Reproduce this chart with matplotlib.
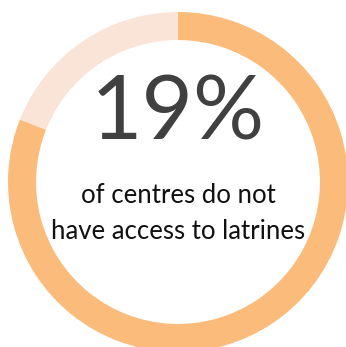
import matplotlib
matplotlib.use("Agg")
import matplotlib.pyplot as plt

# share of centres without latrines vs. with
shares = [81, 19]
colors = ["#FBBB7A", "#FAE4D8"]
caption = ["of centres do not", "have access to latrines"]
highlight = shares[1]

fig = plt.figure(figsize=(3.46, 3.47), dpi=100)
W, H = 346, 347
cx, cy, r = 178, 182, 170
ax = fig.add_axes([(cx - r) / W, (H - cy - r) / H, 2 * r / W, 2 * r / H])

ax.pie(shares, colors=colors, startangle=90, counterclock=False, radius=1,
       wedgeprops=dict(width=0.165, linewidth=0))
ax.set_xlim(-1, 1)
ax.set_ylim(-1, 1)
ax.axis("off")

ax.text(0, 0.40, f"{highlight}%", ha="center", va="center", fontsize=64,
        color="#404040", family="Lato")
ax.text(0, -0.08, caption[0], ha="center", va="center", fontsize=18.5,
        color="#111111", family="Lato")
ax.text(0, -0.29, caption[1], ha="center", va="center", fontsize=18.5,
        color="#111111", family="Lato")

fig.savefig("out.png", dpi=100)
